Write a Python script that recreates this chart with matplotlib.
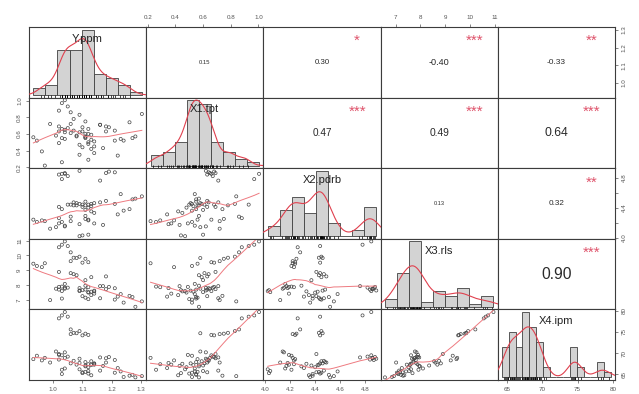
import numpy as np
import matplotlib
matplotlib.use("Agg")
import matplotlib.pyplot as plt

plt.rcParams['font.family'] = ['Liberation Sans', 'DejaVu Sans']

names = ["Y.ppm", "X1.tpt", "X2.pdrb", "X3.rls", "X4.ipm"]

# observations (same order in every list)
y_ppm = [1.04, 1.03, 1.05, 1.02, 1.06, 1.09, 1.07, 1.11, 1.06, 1.12, 1.08, 1.10,
         0.933, 0.945, 0.962, 0.972, 1.06, 1.07, 1.08, 1.18, 1.13, 1.02, 1.11, 1.04,
         1.02, 1.04, 1.05, 1.09, 1.19, 1.21, 1.18, 1.03, 1.16,
         1.302, 1.28, 1.26, 1.27, 1.24,
         1.10, 1.12, 1.09, 1.03, 1.09, 1.12, 1.17, 1.02, 1.04, 1.01, 1.13, 1.14,
         1.11, 1.12, 1.14, 1.11,
         1.03, 1.21, 1.11, 1.12, 1.16, 1.10, 1.13, 1.23, 1.22, 1.14, 0.99]
x1_tpt = [1.005, 0.97, 0.93, 0.88, 0.86, 0.83, 0.78, 0.75, 0.72, 0.66, 0.58, 0.68,
          0.56, 0.52, 0.39, 0.22, 0.61, 0.64, 0.57, 0.63, 0.59, 0.69, 0.60, 0.54,
          0.63, 0.65, 0.67, 0.62, 0.68, 0.64, 0.69, 0.66, 0.71,
          0.84, 0.57, 0.74, 0.55, 0.52,
          0.44, 0.60, 0.47, 0.26, 0.35, 0.29, 0.43, 0.49, 0.62, 0.58, 0.53, 0.51,
          0.55, 0.48, 0.45, 0.57,
          0.55, 0.52, 0.56, 0.50, 0.71, 0.63, 0.42, 0.54, 0.34, 0.37, 0.72]
x2_pdrb = [4.85, 4.78, 4.44, 4.26, 4.28, 4.45, 4.43, 4.25, 4.22, 4.24, 4.46, 4.44,
           4.24, 4.21, 4.23, 4.22, 4.44, 4.47, 4.43, 4.49, 4.45, 4.41, 4.37, 4.16,
           4.84, 4.86, 4.82, 4.89, 4.88, 4.87, 4.86, 4.85, 4.76,
           4.55, 4.52, 4.38, 4.51, 4.36,
           4.03, 4.04, 4.02, 4.21, 4.18, 4.23, 4.17, 4.19, 4.15, 4.14, 4.42, 4.46,
           4.48, 4.40, 4.33, 4.29,
           4.38, 4.45, 4.43, 4.44, 4.47, 4.41, 4.35, 4.58, 4.31, 4.19, 4.12]
x3_rls = [10.94, 10.72, 10.63, 10.55, 10.21, 9.92, 9.85, 9.78, 9.62, 9.55, 9.83, 9.52,
          9.45, 9.30, 9.22, 9.48, 8.82, 8.75, 8.68, 8.60, 8.55, 8.90, 8.35, 8.10,
          7.72, 7.78, 7.85, 7.66, 7.90, 7.81, 7.75, 7.62, 7.95,
          6.93, 6.57, 7.30, 7.22, 6.85,
          7.68, 7.55, 7.62, 7.92, 7.82, 7.88, 7.95, 7.90, 7.84, 7.78, 7.58, 7.65,
          7.72, 7.52, 7.60, 7.98,
          7.12, 7.05, 7.18, 7.08, 7.14, 7.28, 7.35, 7.42, 7.25, 7.45, 7.02]
x4_ipm = [79.7, 78.9, 78.6, 78.2, 75.6, 75.2, 74.8, 74.6, 74.5, 74.3, 74.7, 74.2,
          68.6, 69.4, 68.3, 68.9, 67.6, 68.2, 67.3, 67.8, 68.1, 69.8, 67.1, 66.4,
          68.5, 68.9, 69.2, 68.7, 69.1, 68.4, 68.8, 69.5, 69.0,
          64.6, 64.3, 64.7, 64.9, 64.4,
          65.3, 65.8, 66.2, 66.1, 67.7, 67.4, 67.0, 69.6, 70.2, 70.4, 67.2, 67.6,
          67.9, 66.7, 67.5, 66.9,
          65.1, 65.4, 65.6, 65.2, 65.9, 65.5, 64.8, 65.7, 66.5, 67.3, 67.8]

# histogram breaks
breaks_y = [0.90, 0.95, 1.00, 1.05, 1.10, 1.15, 1.20, 1.25, 1.30, 1.35]
breaks_x1 = [0.2, 0.3, 0.4, 0.5, 0.6, 0.7, 0.8, 0.9, 1.0, 1.1]
breaks_x2 = [4.0, 4.1, 4.2, 4.3, 4.4, 4.5, 4.6, 4.7, 4.8, 4.9]
breaks_x3 = [6.5, 7.0, 7.5, 8.0, 8.5, 9.0, 9.5, 10.0, 10.5, 11.0]
breaks_x4 = [64, 65, 66, 67, 68, 69, 70, 71, 72, 73, 74, 75, 76, 77, 78, 79, 80]

# axis ticks
ticks_y = [1.0, 1.1, 1.2, 1.3]
ticks_x1 = [0.2, 0.4, 0.6, 0.8, 1.0]
ticks_x2 = [4.0, 4.2, 4.4, 4.6, 4.8]
ticks_x3 = [7, 8, 9, 10, 11]
ticks_x4 = [65, 70, 75, 80]

# correlations (upper triangle, row by row) and significance stars
cor_txt = ["0.15", "0.30", "-0.40", "-0.33", "0.47", "0.49", "0.64", "0.13", "0.32", "0.90"]
cor_stars = ["", "*", "***", "**", "***", "***", "***", "", "**", "***"]

data = [np.array(v, float) for v in (y_ppm, x1_tpt, x2_pdrb, x3_rls, x4_ipm)]
breaks = [breaks_y, breaks_x1, breaks_x2, breaks_x3, breaks_x4]
ticks = [ticks_y, ticks_x1, ticks_x2, ticks_x3, ticks_x4]
fmt = ["%.1f", "%.1f", "%.1f", "%d", "%d"]

RED = "#e0404e"
STAR = "#DF536B"
GRID = "#3c3c3c"
TXT = "#555555"


def pad_lim(v, f=0.04):
    lo, hi = float(np.min(v)), float(np.max(v))
    d = (hi - lo) * f
    return lo - d, hi + d


def kde(v):
    n = len(v)
    sd = v.std(ddof=1)
    q75, q25 = np.percentile(v, [75, 25])
    bw = 0.9 * min(sd, (q75 - q25) / 1.34) * n ** -0.2
    gx = np.linspace(v.min() - 3 * bw, v.max() + 3 * bw, 512)
    gy = np.exp(-0.5 * ((gx[:, None] - v[None, :]) / bw) ** 2).sum(1) / (n * bw * np.sqrt(2 * np.pi))
    return gx, gy


def lowess(x, y, f=2 / 3, it=3):
    o = np.argsort(x, kind="stable")
    x, y = x[o], y[o]
    n = len(x)
    r = max(int(f * n + 1e-7), 2)
    rw = np.ones(n)
    fit = np.zeros(n)
    for k in range(it + 1):
        for i in range(n):
            d = np.abs(x - x[i])
            h = np.sort(d)[r - 1]
            u = np.clip(d / h, 0, 1) if h > 0 else (d > 0).astype(float)
            w = (1 - u ** 3) ** 3 * rw
            sw = w.sum()
            if sw <= 0:
                fit[i] = y[i]
                continue
            xm = (w * x).sum() / sw
            ym = (w * y).sum() / sw
            sxx = (w * (x - xm) ** 2).sum()
            b = (w * (x - xm) * (y - ym)).sum() / sxx if sxx > 1e-12 else 0.0
            fit[i] = ym + b * (x[i] - xm)
        res = y - fit
        s = np.median(np.abs(res))
        if s == 0:
            break
        u = np.clip(res / (6 * s), -1, 1)
        rw = (1 - u ** 2) ** 2
    return x, fit


W, H = 639, 394
x0, y0 = 29, 27
pw, ph = 117.2, 70.6

fig = plt.figure(figsize=(W / 100, H / 100), dpi=100)

k = 0
for i in range(5):
    for j in range(5):
        rect = [(x0 + j * pw) / W, 1 - (y0 + (i + 1) * ph) / H, pw / W, ph / H]
        ax = fig.add_axes(rect)
        ax.set_xlim(pad_lim(data[j]))
        ax.set_ylim(pad_lim(data[i]))
        for s in ax.spines.values():
            s.set_color(GRID)
            s.set_linewidth(0.8)
        ax.set_xticks(ticks[j])
        ax.set_xticklabels([fmt[j] % t for t in ticks[j]])
        ylabs = [fmt[i] % t for t in ticks[i]]
        if i == 2 and j == 4:
            ylabs = [l if n % 2 == 0 else "" for n, l in enumerate(ylabs)]
        ax.set_yticks(ticks[i])
        ax.set_yticklabels(ylabs)
        ax.tick_params(top=False, bottom=False, left=False, right=False,
                       labeltop=False, labelbottom=False, labelleft=False, labelright=False,
                       length=2.5, width=0.5, color=TXT, labelcolor=TXT, labelsize=4.5, pad=2.5)
        if i == 0 and j in (1, 3):
            ax.tick_params(axis="x", top=True, labeltop=True)
        if i == 4 and j in (0, 2, 4):
            ax.tick_params(axis="x", bottom=True, labelbottom=True)
        if j == 0 and i in (1, 3):
            ax.tick_params(axis="y", left=True, labelleft=True)
        if j == 4 and i in (0, 2, 4):
            ax.tick_params(axis="y", right=True, labelright=True)
        for lab in ax.get_yticklabels():
            lab.set_rotation(90)
            lab.set_va("center")

        if i < j:
            txt = cor_txt[k]
            r = float(txt)
            ax.text(0.5, 0.5, txt, transform=ax.transAxes, ha="center", va="center",
                    fontsize=12.2 * (abs(r) + 0.3) / 1.3, color="#2a2a2a")
            if cor_stars[k]:
                ax.text(0.8, 0.8, cor_stars[k], transform=ax.transAxes, ha="center",
                        va="center", fontsize=11, color=STAR)
            k += 1
        elif i > j:
            ax.scatter(data[j], data[i], s=5, facecolors="none", edgecolors="#444444",
                       linewidths=0.5)
            lx, ly = lowess(data[j], data[i])
            ax.plot(lx, ly, color="#ee7a80", lw=0.7)
        else:
            v = data[i]
            br = breaks[i]
            hx = fig.add_axes(rect)
            hx.patch.set_visible(False)
            hx.set_axis_off()
            n, _, _ = hx.hist(v, bins=br, density=True, color="#d3d3d3",
                              edgecolor="#404040", linewidth=0.6)
            gx, gy = kde(v)
            hx.plot(gx, gy, color=RED, lw=0.8)
            span = br[-1] - br[0]
            top = float(np.max(n))
            ylo, yhi = -0.04 * top, 1.04 * top
            hx.set_xlim(br[0] - 0.04 * span, br[-1] + 0.04 * span)
            hx.set_ylim(ylo, yhi)
            hx.vlines(v, ylo, ylo + 0.04 * (yhi - ylo), color="black", lw=0.5)
            hx.text(0.5, 0.833, names[i], transform=hx.transAxes, ha="center",
                    va="center", fontsize=8, color="#222222")

fig.savefig("out.png", dpi=100)
